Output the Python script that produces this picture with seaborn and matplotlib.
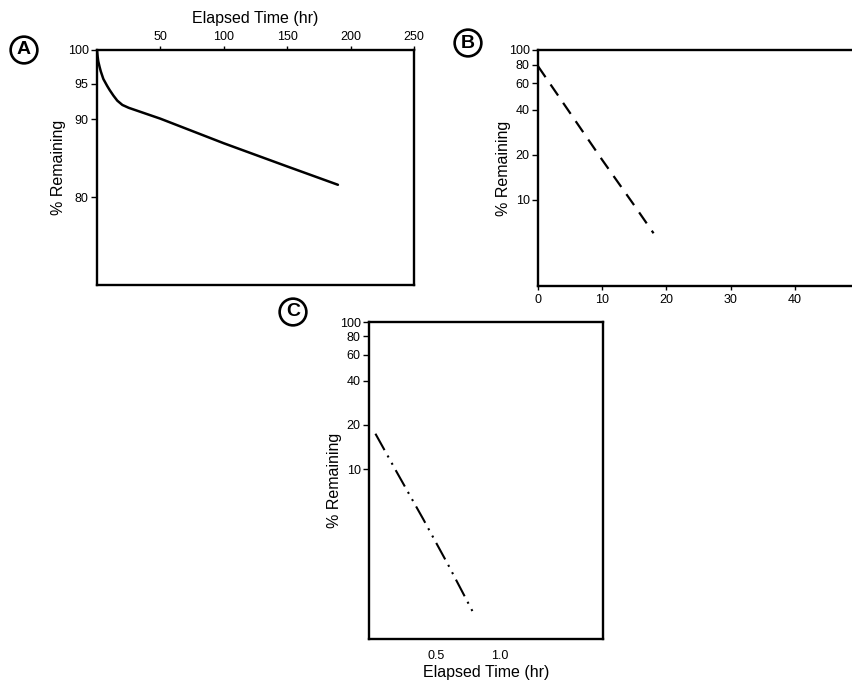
import matplotlib
matplotlib.use("Agg")
import matplotlib.pyplot as plt
import matplotlib.ticker as mticker
import seaborn as sns
import numpy as np

# ---- data ----
a_time = [0, 0.5, 1, 2, 3, 5, 8, 10, 13, 16, 20, 25, 50, 100, 150, 190]
a_remain = [100, 99.0, 98.3, 97.5, 96.8, 95.7, 94.7, 94.1, 93.3, 92.6, 92.0, 91.6, 90.1, 86.8, 83.8, 81.5]
a_xticks = [50, 100, 150, 200, 250]
a_yticks = [80, 90, 95, 100]

b_time = [0, 5, 10, 15, 18]
b_remain = [78, 38, 18.5, 9.2, 6.0]
b_xticks = [0, 10, 20, 30, 40]
b_yticks = [10, 20, 40, 60, 80, 100]

c_time = [0.03, 0.2, 0.4, 0.6, 0.79]
c_remain = [17.4, 9.4, 4.6, 2.2, 1.06]
c_xticks = [0.5, 1.0]
c_xticklabels = ["0.5", "1.0"]
c_yticks = [10, 20, 40, 60, 80, 100]

sns.set_style("ticks")
plt.rcParams['font.family'] = ['Liberation Sans', 'DejaVu Sans']
plt.rcParams['text.color'] = 'black'
plt.rcParams['axes.labelcolor'] = 'black'
plt.rcParams['xtick.color'] = 'black'
plt.rcParams['ytick.color'] = 'black'

W, H = 853, 684
fig = plt.figure(figsize=(W / 100, H / 100), dpi=100)

def rect(l, r, t, b):
    return [l / W, 1 - b / H, (r - l) / W, (b - t) / H]

axA = fig.add_axes(rect(97, 414, 50, 285))
axB = fig.add_axes(rect(538, 859, 50, 286))
axC = fig.add_axes(rect(369, 603, 322, 639))

tick_fs = 9
lab_fs = 11.5

for ax in (axA, axB, axC):
    for s in ax.spines.values():
        s.set_visible(True)
        s.set_linewidth(1.7)
        s.set_color("black")
    ax.set_yscale("log")
    ax.tick_params(axis="both", which="major", labelsize=tick_fs, length=4,
                   width=1.0, color="black", labelcolor="black", pad=2)

# ---- Panel A ----
sns.lineplot(x=a_time, y=a_remain, ax=axA, color="black", linewidth=1.8)
axA.set_xlim(0, 250)
axA.set_ylim(70, 100)
axA.set_yticks(a_yticks)
axA.set_yticklabels([str(v) for v in a_yticks])
axA.yaxis.set_minor_locator(mticker.NullLocator())
axA.xaxis.tick_top()
axA.xaxis.set_label_position("top")
axA.set_xticks(a_xticks)
axA.set_xticklabels([str(v) for v in a_xticks])
axA.tick_params(axis="x", length=3)
axA.set_xlabel("Elapsed Time (hr)", fontsize=lab_fs, labelpad=6)
axA.set_ylabel("% Remaining", fontsize=lab_fs, labelpad=1)

# ---- Panel B ----
sns.lineplot(x=b_time, y=b_remain, ax=axB, color="black", linewidth=1.6)
axB.lines[-1].set_dashes((6, 4))
axB.set_xlim(0, 50)
axB.set_ylim(2.67, 100)
axB.set_yticks(b_yticks)
axB.set_yticklabels([str(v) for v in b_yticks])
axB.yaxis.set_minor_locator(mticker.NullLocator())
axB.set_xticks(b_xticks)
axB.set_xticklabels([str(v) for v in b_xticks])
axB.tick_params(axis="x", length=3, pad=3)
axB.set_ylabel("% Remaining", fontsize=lab_fs, labelpad=-2)

# ---- Panel C ----
sns.lineplot(x=c_time, y=c_remain, ax=axC, color="black", linewidth=1.5)
axC.lines[-1].set_dashes((9, 3, 1, 3, 1, 3))
axC.set_xlim(-0.02, 1.8)
axC.set_ylim(0.70, 100)
axC.set_yticks(c_yticks)
axC.set_yticklabels([str(v) for v in c_yticks])
axC.yaxis.set_minor_locator(mticker.NullLocator())
axC.set_xticks(c_xticks)
axC.set_xticklabels(c_xticklabels)
axC.tick_params(axis="x", length=0, pad=8)
axC.set_xlabel("Elapsed Time (hr)", fontsize=lab_fs, labelpad=2)
axC.set_ylabel("% Remaining", fontsize=lab_fs, labelpad=-2)

# ---- Panel letters ----
for letter, px, py in (("A", 24, 50), ("B", 468, 43), ("C", 293, 312)):
    fig.text(px / W, 1 - py / H, letter, ha="center", va="center",
             fontsize=14, fontweight="bold",
             bbox=dict(boxstyle="circle,pad=0.25", fc="white", ec="black", lw=1.9))

fig.savefig("out.png", dpi=100)
